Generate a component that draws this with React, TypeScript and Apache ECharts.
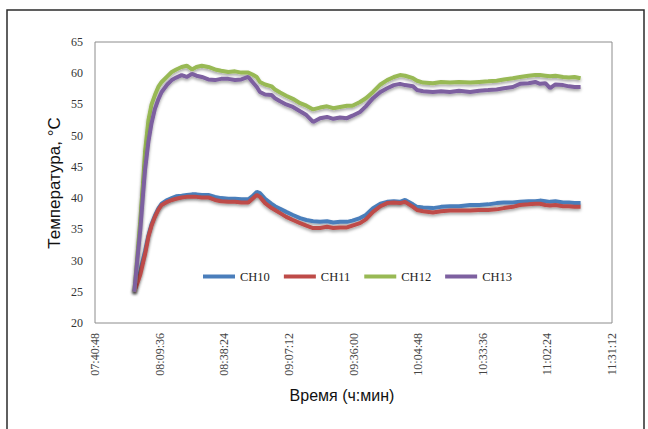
import React, { useEffect, useRef } from "react";
import * as echarts from "echarts";

// time of each sample, minutes since midnight
const timeMin = [
  478.3, 479.5, 481, 482.3, 483.1, 484.6, 486, 487.5, 489, 490.5, 493, 495, 497, 499.4, 501.7,
  504, 506, 508.4, 511.3, 514.3, 517, 520.2, 523.2, 526, 529.1, 531, 532.9, 534.3, 536.6, 539.5,
  541, 543.3, 546, 549, 552.2, 555, 558, 561.1, 564.2, 567, 570, 573.1, 575.5, 578.9, 581.5,
  584.7, 588, 591, 594, 596.7, 599, 602.5, 604.3, 607, 611.4, 615, 619, 623, 628, 632,
  636, 639.8, 643, 647, 650.2, 654, 657, 659.1, 661.5, 663.6, 666, 669.4, 672, 674.5, 677.2,
];

const ch10 = [
  25, 26.5, 28.3, 30.3, 31.5, 34.0, 35.8, 37.2, 38.3, 39.1, 39.7, 40.0, 40.3, 40.4, 40.5,
  40.6, 40.6, 40.5, 40.5, 40.2, 40.0, 39.9, 39.9, 39.8, 39.8, 40.3, 41.0, 40.8, 39.9, 39.1,
  38.7, 38.3, 37.8, 37.3, 36.8, 36.5, 36.3, 36.2, 36.3, 36.1, 36.2, 36.2, 36.4, 36.8, 37.3,
  38.4, 39.1, 39.4, 39.5, 39.4, 39.7, 39.0, 38.6, 38.5, 38.4, 38.6, 38.7, 38.7, 38.9, 38.9,
  39.0, 39.2, 39.3, 39.3, 39.4, 39.5, 39.5, 39.6, 39.5, 39.4, 39.5, 39.3, 39.3, 39.2, 39.2,
];

const ch11 = [
  25, 26.2, 27.8, 29.8, 31.0, 33.8, 35.6, 37.0, 38.1, 38.9, 39.4, 39.7, 39.9, 40.1, 40.2,
  40.2, 40.2, 40.1, 40.1, 39.7, 39.5, 39.4, 39.4, 39.3, 39.3, 39.9, 40.5, 40.2, 39.2, 38.4,
  38.1, 37.6, 37.0, 36.5, 36.0, 35.6, 35.2, 35.2, 35.4, 35.2, 35.3, 35.3, 35.6, 36.0, 36.6,
  37.8, 38.7, 39.2, 39.3, 39.2, 39.4, 38.6, 38.1, 37.9, 37.7, 37.9, 38.0, 38.0, 38.0, 38.1,
  38.1, 38.2, 38.4, 38.6, 38.9, 39.0, 39.1, 39.1, 38.9, 38.8, 38.9, 38.7, 38.7, 38.6, 38.6,
];

const ch12 = [
  25, 30, 36.5, 43, 47.5, 52.5, 55, 56.5, 57.8, 58.6, 59.5, 60.2, 60.6, 61.0, 61.2,
  60.6, 61.0, 61.2, 61.0, 60.6, 60.4, 60.2, 60.3, 60.1, 60.1, 59.8, 59.4, 58.6, 58.2, 57.9,
  57.4, 56.9, 56.4, 55.9, 55.2, 54.8, 54.2, 54.5, 54.7, 54.4, 54.6, 54.8, 54.8, 55.4, 56.0,
  57.0, 58.2, 58.9, 59.4, 59.7, 59.6, 59.2, 58.8, 58.5, 58.4, 58.6, 58.5, 58.6, 58.5, 58.6,
  58.7, 58.8, 59.0, 59.2, 59.4, 59.6, 59.7, 59.7, 59.6, 59.5, 59.6, 59.4, 59.3, 59.4, 59.2,
];

const ch13 = [
  25, 29.5, 35, 41, 44.5, 49, 52, 54.3, 55.8, 57, 58.2, 58.9, 59.3, 59.7, 59.4,
  59.9, 59.6, 59.4, 59.0, 58.9, 59.1, 59.1, 58.9, 59.0, 59.4, 58.6, 57.8, 57.0, 56.6, 56.5,
  56.0, 55.5, 55.0, 54.6, 53.9, 53.3, 52.2, 52.8, 53.0, 52.7, 52.9, 52.8, 53.2, 53.8, 54.7,
  56.0, 57.0, 57.6, 58.1, 58.3, 58.1, 57.9, 57.3, 57.1, 57.0, 57.1, 57.0, 57.2, 57.0, 57.2,
  57.3, 57.4, 57.6, 57.8, 58.3, 58.4, 58.6, 58.3, 58.4, 57.6, 58.2, 58.1, 57.9, 57.8, 57.8,
];

const seriesNames = ["CH10", "CH11", "CH12", "CH13"];
const seriesColors = ["#4A7EBB", "#BE4B48", "#98B954", "#7D60A0"];
const yTitle = "Температура, °C";
const xTitle = "Время (ч:мин)";

// x axis in seconds since midnight: 07:40:48 .. 11:31:12, step 00:28:48
const xMin = 27648;
const xMax = 41472;
const xStep = 1728;

const pad = (n: number) => (n < 10 ? "0" + n : "" + n);
const fmt = (s: number) => {
  const h = Math.floor(s / 3600);
  const m = Math.floor((s % 3600) / 60);
  const sec = Math.round(s % 60);
  return pad(h) + ":" + pad(m) + ":" + pad(sec);
};

export default function App() {
  const ref = useRef<HTMLDivElement>(null);
  useEffect(() => {
    if (!ref.current) return;
    const chart = echarts.init(ref.current, undefined, { renderer: "svg" });
    const all = [ch10, ch11, ch12, ch13];
    chart.setOption({
      animation: false,
      backgroundColor: "#ffffff",
      grid: {
        left: 95,
        right: 36,
        top: 42,
        bottom: 106,
        show: true,
        borderColor: "#8c8c8c",
        borderWidth: 1,
      },
      legend: {
        left: 198,
        top: 265,
        itemWidth: 32,
        itemHeight: 4,
        itemGap: 14,
        icon: "rect",
        textStyle: { fontFamily: "Liberation Serif", fontSize: 12.5, color: "#222" },
        data: seriesNames,
      },
      xAxis: {
        type: "value",
        min: xMin,
        max: xMax,
        interval: xStep,
        axisLine: { show: false },
        axisTick: { show: false },
        splitLine: { show: false },
        axisLabel: {
          show: true,
          rotate: 90,
          margin: 10,
          fontFamily: "Liberation Serif",
          fontSize: 12,
          color: "#444",
          formatter: (v: number) => fmt(v),
        },
      },
      yAxis: {
        type: "value",
        min: 20,
        max: 65,
        interval: 5,
        axisLine: { show: false },
        axisTick: { show: false },
        splitLine: { show: false },
        axisLabel: {
          margin: 12,
          fontFamily: "Liberation Serif",
          fontSize: 12,
          color: "#333",
        },
      },
      graphic: [
        {
          type: "rect",
          shape: { x: 7, y: 10, width: 637, height: 440 },
          style: { fill: "none", stroke: "#2b2b2b", lineWidth: 1.5 },
          silent: true,
        },
        {
          type: "text",
          x: 54,
          y: 183,
          rotation: Math.PI / 2,
          style: {
            text: yTitle,
            fontFamily: "Liberation Sans",
            fontSize: 17,
            fill: "#111",
            align: "center",
            verticalAlign: "middle",
          },
        },
        {
          type: "text",
          x: 342,
          y: 395,
          style: {
            text: xTitle,
            fontFamily: "Liberation Sans",
            fontSize: 16,
            fill: "#111",
            align: "center",
            verticalAlign: "middle",
          },
        },
      ],
      series: seriesNames.map((name, i) => ({
        name,
        type: "line",
        showSymbol: false,
        symbol: "none",
        color: seriesColors[i],
        lineStyle: {
          width: 4,
          color: seriesColors[i],
          shadowColor: "rgba(0,0,0,0.35)",
          shadowBlur: 3,
          shadowOffsetY: 2,
        },
        data: timeMin.map((t, k) => [Math.round(t * 60), all[i][k]]),
      })),
    });
    return () => chart.dispose();
  }, []);
  return (
    <div
      ref={ref}
      style={{ position: "fixed", left: 0, top: 0, width: 648, height: 429, background: "#fff" }}
    />
  );
}
